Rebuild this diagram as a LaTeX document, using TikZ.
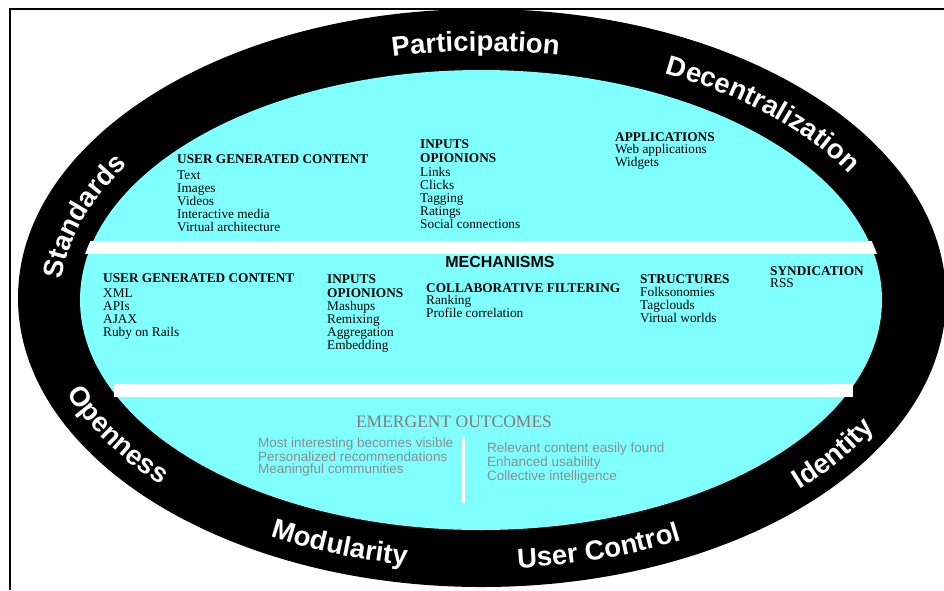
\documentclass[tikz,border=0pt]{standalone}
\usepackage{fontspec}
\setmainfont{Liberation Serif}
\setsansfont{Liberation Sans}
\usetikzlibrary{decorations.text}
\definecolor{cyanfill}{HTML}{80FFFF}
\definecolor{outgray}{HTML}{8C8C8C}
\definecolor{outhead}{HTML}{8A7878}
\newcommand\ringfont{\sffamily\bfseries\fontsize{27.5}{30}\selectfont}
\begin{document}
\begin{tikzpicture}[x=1pt,y=-1pt,
  blk/.style={anchor=base west, align=left, inner sep=0pt, font=\fontsize{13.3}{13}\selectfont},
  outblk/.style={anchor=base west, align=left, inner sep=0pt, text=outgray, font=\sffamily\fontsize{13.5}{12}\selectfont},
  ringword/.style={decorate, decoration={text along path, text align=center, text color=white, text={|\ringfont|#1}}},
]
\useasboundingbox (0,0) rectangle (944,590);
\fill[white] (0,0) rectangle (944,590);
% rings
\fill[black] (482,298) ellipse [x radius=464, y radius=289];
\fill[cyanfill] (481,300) ellipse [x radius=401, y radius=230];
% white bars
\begin{scope}
  \clip (481,300) ellipse [x radius=404, y radius=230];
  \fill[white] (80,241) rectangle (890,254);
\end{scope}
\fill[white] (114,384) rectangle (853,397);
\fill[white] (461.5,437) rectangle (464.5,503);
% frame
\draw[line width=2pt] (10,590) -- (10,9) -- (944,9);
% ring words (top: clockwise, bottom: counter-clockwise)
\path[ringword=Participation] ([shift={(482,299)}]-131:421 and 248) arc[start angle=-131, end angle=-51, x radius=421, y radius=248];
\path[ringword=Decentralization] ([shift={(482,299)}]-82.5:424 and 250) arc[start angle=-82.5, end angle=-2.5, x radius=424, y radius=250];
\path[ringword=Standards] ([shift={(482,299)}]-205:421 and 248) arc[start angle=-205, end angle=-125, x radius=421, y radius=248];
\path[ringword=Openness] ([shift={(482,299)}]193:443 and 270) arc[start angle=193, end angle=113, x radius=443, y radius=270];
\path[ringword=Modularity] ([shift={(482,299)}]152:443 and 270) arc[start angle=152, end angle=72, x radius=443, y radius=270];
\path[ringword={User Control}] ([shift={(482,299)}]112:443 and 270) arc[start angle=112, end angle=32, x radius=443, y radius=270];
\path[ringword=Identity] ([shift={(482,299)}]71:446 and 272) arc[start angle=71, end angle=-9, x radius=446, y radius=272];
% top section (anchor = baseline of the last line)
\node[blk] (ugc1) at (177,231) {\textbf{USER GENERATED CONTENT}\\[3pt]Text\\Images\\Videos\\Interactive media\\Virtual architecture};
\node[blk] (inp1) at (420,228) {\textbf{INPUTS}\\[1pt]\textbf{OPIONIONS}\\[1pt]Links\\Clicks\\Tagging\\Ratings\\Social connections};
\node[blk] (app1) at (615,166) {\textbf{APPLICATIONS}\\[-1pt]Web applications\\Widgets};
% mechanisms
\node[anchor=base, inner sep=0pt, font=\sffamily\bfseries\fontsize{16}{16}\selectfont] (mech) at (500,267) {MECHANISMS};
\node[blk] (ugc2) at (103,336) {\textbf{USER GENERATED CONTENT}\\[2pt]XML\\APIs\\AJAX\\Ruby on Rails};
\node[blk] (inp2) at (327,349) {\textbf{INPUTS}\\[1pt]\textbf{OPIONIONS}\\Mashups\\Remixing\\Aggregation\\Embedding};
\node[blk] (col2) at (426,317) {\textbf{COLLABORATIVE FILTERING}\\[-1pt]Ranking\\Profile correlation};
\node[blk] (str2) at (640,322) {\textbf{STRUCTURES}\\Folksonomies\\Tagclouds\\Virtual worlds};
\node[blk] (syn2) at (770,287) {\textbf{SYNDICATION}\\[-1pt]RSS};
% outcomes
\node[anchor=base, inner sep=0pt, text=outhead, font=\fontsize{17.5}{18}\selectfont] (emerg) at (454,427) {EMERGENT OUTCOMES};
\node[outblk] (outl) at (258,473) {Most interesting becomes visible\\Personalized recommendations\\Meaningful communities};
\node[outblk] (outr) at (487,480) {Relevant content easily found\\Enhanced usability\\Collective intelligence};
\end{tikzpicture}
\end{document}
